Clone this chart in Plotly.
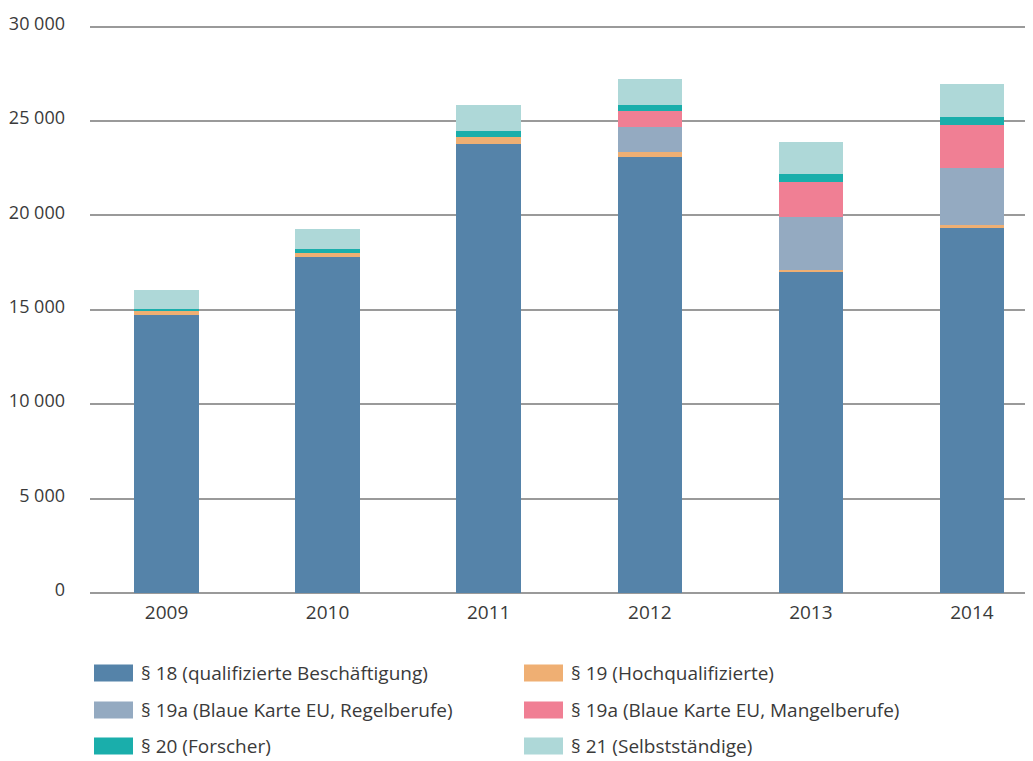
import plotly.graph_objects as go

years = ["2009", "2010", "2011", "2012", "2013", "2014"]

series_names = [
    "§ 18 (qualifizierte Beschäftigung)",
    "§ 19 (Hochqualifizierte)",
    "§ 19a (Blaue Karte EU, Regelberufe)",
    "§ 19a (Blaue Karte EU, Mangelberufe)",
    "§ 20 (Forscher)",
    "§ 21 (Selbstständige)",
]

s18 = [14710, 17790, 23770, 23070, 17040, 19380]
s19 = [200, 210, 370, 260, 90, 90]
s19a_regel = [0, 0, 0, 1360, 2770, 3050]
s19a_mangel = [0, 0, 0, 810, 1850, 2280]
s20 = [120, 200, 320, 320, 420, 390]
s21 = [1040, 1060, 1360, 1380, 1710, 1780]

y_ticks = [0, 5000, 10000, 15000, 20000, 25000, 30000]
y_tick_labels = ["0", "5 000", "10 000", "15 000", "20 000", "25 000", "30 000"]

colors = ["#5583a9", "#efaf73", "#94aac1", "#f07f94", "#1aaeab", "#aed8d8"]
series_values = [s18, s19, s19a_regel, s19a_mangel, s20, s21]

# page body has an 8px margin; positions below are figure pixels
W, H = 1033, 761
ML, MR, MT, MB = 82, 8, 15, 176
FONT = "Open Sans"
FS = 19
TXT = "#3a3a3a"
GRID = "#9a9a9a"

plot_h = H - MT - MB
plot_w = W - ML - MR
y_top = 30000 * plot_h / 566.5

fig = go.Figure()
for name, vals, col in zip(series_names, series_values, colors):
    fig.add_trace(go.Bar(
        x=years, y=vals, name=name,
        marker=dict(color=col, line=dict(width=0)),
        width=0.40, showlegend=False,
    ))

def px_to_paper_x(px):
    return (px - ML) / plot_w
def px_to_paper_y(py):
    return (H - MB - py) / plot_h

# manual legend (two columns, three rows)
col_x = [86, 516]
row_y = [665, 702, 738]
shapes = []
annotations = []
for i, (name, col) in enumerate(zip(series_names, colors)):
    c = i % 2
    r = i // 2
    x0 = col_x[c]
    yc = row_y[r]
    shapes.append(dict(
        type="rect", xref="paper", yref="paper",
        x0=px_to_paper_x(x0), x1=px_to_paper_x(x0 + 39),
        y0=px_to_paper_y(yc + 8.5), y1=px_to_paper_y(yc - 8.5),
        fillcolor=col, line=dict(width=0),
    ))
    annotations.append(dict(
        xref="paper", yref="paper",
        x=px_to_paper_x(x0 + 45), y=px_to_paper_y(yc),
        xanchor="left", yanchor="middle", showarrow=False,
        text=name, font=dict(family=FONT, size=FS, color=TXT),
    ))

fig.update_layout(
    barmode="stack",
    width=W, height=H,
    margin=dict(l=ML, r=MR, t=MT, b=MB, pad=0, autoexpand=False),
    paper_bgcolor="white", plot_bgcolor="white",
    font=dict(family=FONT, size=FS, color=TXT),
    shapes=shapes, annotations=annotations,
)
fig.update_xaxes(
    type="category", range=[-0.475, 5.379],
    showgrid=False, zeroline=False, showline=False,
    ticks="", ticklabelstandoff=6, automargin=False,
    tickfont=dict(family=FONT, size=FS, color=TXT),
)
fig.update_yaxes(
    range=[0, y_top],
    tickvals=y_ticks, ticktext=y_tick_labels,
    showgrid=True, gridcolor=GRID, gridwidth=2,
    zeroline=True, zerolinecolor=GRID, zerolinewidth=2,
    showline=False, ticks="", automargin=False,
    ticklabelstandoff=24, ticklabelshift=-3,
    tickfont=dict(family=FONT, size=18, color=TXT),
)

fig.write_html("out.html")
